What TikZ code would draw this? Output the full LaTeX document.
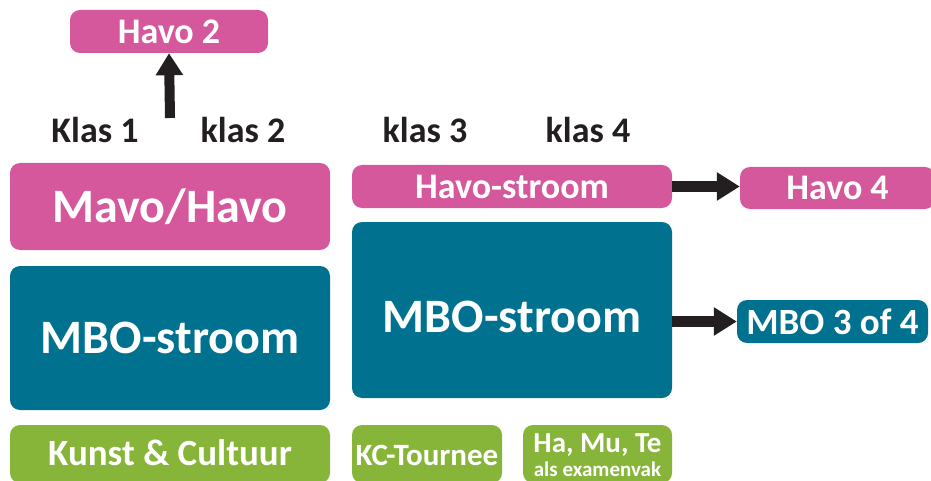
\documentclass[tikz,border=0pt]{standalone}
\usepackage{fontspec}
\setmainfont{Carlito}
\usetikzlibrary{arrows.meta, positioning}

\definecolor{roze}{RGB}{214,88,156}
\definecolor{petrol}{RGB}{0,114,143}
\definecolor{groen}{RGB}{134,181,58}
\definecolor{donker}{RGB}{35,31,32}

\begin{document}
\begin{tikzpicture}[x=1pt, y=-1pt,
    blok/.style={rounded corners=10pt, text=white, font=\bfseries, inner sep=0pt, align=center},
    pinkbox/.style={blok, fill=roze},
    tealbox/.style={blok, fill=petrol},
    greenbox/.style={blok, fill=groen, minimum height=58pt},
    klas/.style={anchor=base, text=donker, font=\bfseries\fontsize{36}{40}\selectfont},
    pijl/.style={draw=donker, line width=11pt, -{Triangle[length=23pt, width=27pt]}}]
    \useasboundingbox (0,0) rectangle (931,481);
    \clip (0,0) rectangle (931,481);

    % Havo 2 boven
    \node[pinkbox, minimum width=198pt, minimum height=43pt, font=\bfseries\fontsize{36}{40}\selectfont] (havotwee) at (169,31.5) {Havo 2};
    \coordinate (start) at (170,118);
    \draw[pijl, line width=10pt, -{Triangle[length=22pt, width=26pt]}] (start) -- (havotwee.south);

    % klassen
    \node[klas] (klas1) at (95,143) {Klas 1};
    \node[klas] (klas2) at (243,143) {klas 2};
    \node[klas] (klas3) at (425,143) {klas 3};
    \node[klas] (klas4) at (588,143) {klas 4};

    % klas 1 en 2
    \node[pinkbox, minimum width=320pt, minimum height=87pt, font=\bfseries\fontsize{48}{52}\selectfont] (mavohavo) at (170,206.5) {Mavo/Havo};
    \node[tealbox, minimum width=320pt, minimum height=144pt, font=\bfseries\fontsize{48}{52}\selectfont] (mbolinks) at (170,338) {MBO-stroom};
    \node[greenbox, minimum width=320pt, text height=40pt, text depth=18pt, font=\bfseries\fontsize{37}{40}\selectfont] (kunst) at (170,454) {Kunst \& Cultuur};

    % klas 3 en 4
    \node[pinkbox, minimum width=320pt, minimum height=43pt, font=\bfseries\fontsize{36}{40}\selectfont] (havostroom) at (512,186.5) {Havo-stroom};
    \node[tealbox, minimum width=320pt, minimum height=176pt, text height=44pt, text depth=0pt, font=\bfseries\fontsize{48}{52}\selectfont] (mborechts) at (512,310) {MBO-stroom};
    \node[greenbox, minimum width=150pt, text height=40pt, text depth=18pt, font=\bfseries\fontsize{31}{34}\selectfont] (kc) at (427,454) {KC-Tournee};
    \node[greenbox, minimum width=149pt, text height=51pt, text depth=7pt, font=\bfseries\fontsize{29}{24}\selectfont] (examen) at (597.5,454) {Ha, Mu, Te\\{\fontsize{21}{22}\selectfont als examenvak}};

    % vervolg
    \node[pinkbox, minimum width=195pt, minimum height=42pt, font=\bfseries\fontsize{36}{40}\selectfont] (havovier) at (837.5,188) {Havo 4};
    \node[tealbox, minimum width=191pt, minimum height=43pt, font=\bfseries\fontsize{37}{40}\selectfont] (mbo) at (832.5,321.5) {MBO 3 of 4};

    \draw[pijl] (havostroom.east) -- (havostroom.east -| havovier.west);
    \draw[pijl] (mborechts.east |- mbo) -- (mbo);
\end{tikzpicture}
\end{document}
